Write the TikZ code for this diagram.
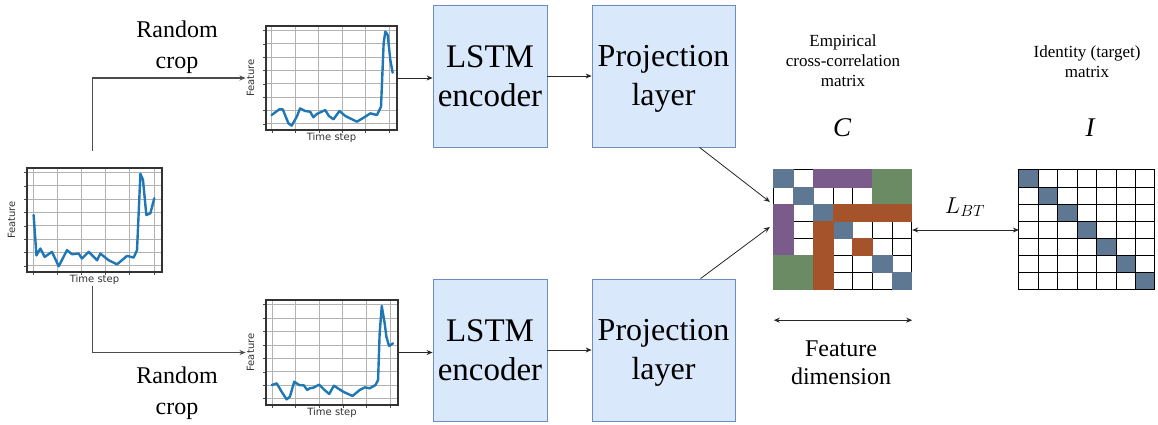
\RequirePackage{fix-cm}
\documentclass[tikz,border=0pt]{standalone}
\usepackage{fontspec}
\setmainfont{Liberation Serif}
\newfontfamily\plotfont{DejaVu Sans}
\usetikzlibrary{arrows.meta,positioning,calc}
\definecolor{boxfill}{RGB}{218,232,252}
\definecolor{boxline}{RGB}{108,142,191}
\definecolor{cdiag}{RGB}{94,120,147}
\definecolor{cpurp}{RGB}{123,90,140}
\definecolor{cgreen}{RGB}{107,139,100}
\definecolor{cbrown}{RGB}{165,83,42}
\definecolor{curve}{RGB}{31,119,180}
\def\tsgrid{%
  \foreach \gx in {0.045,0.224,...,0.95} {\draw[gridline] (\gx,0) -- (\gx,1); \draw[tickmark] (\gx,0) -- (\gx,-0.03);}
  \foreach \gy in {0.06,0.188,...,0.97} {\draw[gridline] (0,\gy) -- (1,\gy); \draw[tickmark] (0,\gy) -- (-0.025,\gy);}
}
\begin{document}
\begin{tikzpicture}[x=1pt, y=-1pt,
  enc/.style={draw=boxline, fill=boxfill, line width=0.8pt, minimum width=114pt, minimum height=142pt, inner sep=0pt, align=center, font=\fontsize{33}{39}\selectfont},
  proj/.style={enc, minimum width=143pt, font=\fontsize{32}{39}\selectfont},
  plotframe/.style={draw=black!80, line width=1.1pt, inner sep=0pt},
  axlab/.style={font=\plotfont\fontsize{10}{12}\selectfont, inner sep=1pt, text=black!80},
  gridline/.style={draw=black!30, line width=0.8pt},
  tickmark/.style={draw=black!70, line width=0.5pt},
  series/.style={draw=curve, line width=2.4pt, line join=round, line cap=round},
  arr/.style={-{Stealth[length=6pt,width=5pt]}, draw=black!85, line width=0.8pt},
  dbl/.style={arr, {Stealth[length=6pt,width=5pt]}-{Stealth[length=6pt,width=5pt]}},
  branch/.style={arr, draw=black!70, line width=1.2pt},
  cell/.style={draw=black, line width=0.9pt},
  blk/.style={fill=#1, draw=#1, line width=0.9pt},
  lbl/.style={align=center, font=\fontsize{24}{31}\selectfont},
  small/.style={align=center, font=\fontsize{17}{20}\selectfont},
]
	%%%%% START %%%%%
	\useasboundingbox (0,0) rectangle (1158,424);
	
	% input series
	\begin{scope}[shift={(27,272)}, x={(135pt,0pt)}, y={(0pt,104pt)}]
		\tsgrid
		\node[plotframe, minimum width=135pt, minimum height=104pt] (frameL) at (0.5,0.5) {};
		\draw[series] plot coordinates {(0.049,0.548) (0.07,0.16) (0.099,0.226) (0.131,0.145) (0.185,0.194) (0.235,0.055) (0.296,0.21) (0.333,0.171) (0.383,0.177) (0.407,0.129) (0.457,0.194) (0.519,0.113) (0.543,0.177) (0.605,0.113) (0.667,0.074) (0.741,0.155) (0.79,0.139) (0.815,0.21) (0.84,0.945) (0.859,0.887) (0.884,0.548) (0.914,0.565) (0.943,0.71)};
	\end{scope}
	\node[axlab, below=1pt of frameL] (timeL) {Time step};
	\node[axlab, rotate=90] (featL) at ([xshift=-15pt]frameL.west) {Feature};
	
	% upper crop
	\begin{scope}[shift={(266,130)}, x={(131pt,0pt)}, y={(0pt,104pt)}]
		\tsgrid
		\node[plotframe, minimum width=131pt, minimum height=104pt] (frameT) at (0.5,0.5) {};
		\draw[series] plot coordinates {(0.043,0.144) (0.102,0.199) (0.128,0.199) (0.171,0.064) (0.196,0.042) (0.235,0.128) (0.26,0.208) (0.298,0.183) (0.337,0.176) (0.362,0.122) (0.388,0.154) (0.452,0.192) (0.48,0.135) (0.515,0.103) (0.561,0.183) (0.605,0.135) (0.694,0.08) (0.758,0.128) (0.796,0.16) (0.847,0.144) (0.878,0.224) (0.898,0.833) (0.911,0.946) (0.929,0.913) (0.949,0.673) (0.967,0.551)};
	\end{scope}
	\node[axlab, below=1pt of frameT] (timeT) {Time step};
	\node[axlab, rotate=90] (featT) at ([xshift=-15pt]frameT.west) {Feature};
	
	% lower crop
	\begin{scope}[shift={(266,405)}, x={(132pt,0pt)}, y={(0pt,105pt)}]
		\tsgrid
		\node[plotframe, minimum width=132pt, minimum height=105pt] (frameB) at (0.5,0.5) {};
		\draw[series] plot coordinates {(0.043,0.19) (0.081,0.206) (0.118,0.127) (0.156,0.054) (0.181,0.079) (0.214,0.222) (0.252,0.19) (0.287,0.187) (0.312,0.143) (0.332,0.159) (0.358,0.165) (0.403,0.194) (0.438,0.149) (0.479,0.105) (0.514,0.184) (0.584,0.127) (0.655,0.086) (0.71,0.143) (0.748,0.168) (0.786,0.159) (0.829,0.19) (0.849,0.238) (0.861,0.683) (0.877,0.943) (0.899,0.778) (0.912,0.651) (0.932,0.562) (0.962,0.587)};
	\end{scope}
	\node[axlab, below=1pt of frameB] (timeB) {Time step};
	\node[axlab, rotate=90] (featB) at ([xshift=-15pt]frameB.west) {Feature};
	
	\node[lbl] (cropT) at (177,47) {Random\\crop};
	\node[lbl] (cropB) at (177,393) {Random\\crop};
	
	\node[enc] (encT) at (490,76) {LSTM\\encoder};
	\node[enc] (encB) at (490,350) {LSTM\\encoder};
	\node[proj] (projT) at (663.5,76) {\strut Projection\\layer};
	\node[proj] (projB) at (663.5,350) {\strut Projection\\layer};
	
	\node[inner sep=0pt, minimum width=138pt, minimum height=120pt] (matC) at (843,230) {};
	\node[inner sep=0pt, minimum width=136pt, minimum height=120pt] (matI) at (1087,230) {};
	
	% C
	\begin{scope}[shift={(matC.north west)}, x=19.714pt, y=-17.143pt]
		\foreach \r in {0,...,6} {\foreach \c in {0,...,6} {\draw[cell] (\c,\r) rectangle ++(1,1);}}
		\foreach \d in {0,1,2,3,5,6} {\draw[blk=cdiag] (\d,\d) rectangle ++(1,1);}
		\draw[blk=cpurp] (2,0) rectangle (5,1);
		\draw[blk=cpurp] (0,2) rectangle (1,5);
		\draw[blk=cgreen] (5,0) rectangle (7,2);
		\draw[blk=cgreen] (0,5) rectangle (2,7);
		\draw[blk=cbrown] (3,2) rectangle (7,3);
		\draw[blk=cbrown] (2,3) rectangle (3,7);
		\draw[blk=cbrown] (4,4) rectangle (5,5);
	\end{scope}
	
	% I
	\begin{scope}[shift={(matI.north west)}, x=19.429pt, y=-17.143pt]
		\foreach \d in {0,...,6} {\fill[cdiag] (\d,\d) rectangle ++(1,1);}
		\foreach \r in {0,...,6} {\foreach \c in {0,...,6} {\draw[cell] (\c,\r) rectangle ++(1,1);}}
	\end{scope}
	
	\node[small] (capC) at (843,61) {Empirical\\cross-correlation\\matrix};
	\node[small] (capI) at (1087,62) {Identity (target)\\matrix};
	\node[font=\fontsize{27}{30}\selectfont\itshape] (symC) at (842,128) {C};
	\node[font=\fontsize{27}{30}\selectfont\itshape] (symI) at (1090,128) {I};
	\node[font=\fontsize{23}{26}\selectfont] (lbt) at (965,207) {$L_{BT}$};
	\node[lbl, font=\fontsize{24}{28}\selectfont] (fdim) at (841,363) {Feature\\dimension};
	
	\draw[branch] ([xshift=-2pt,yshift=16pt]frameL.north) |- (featT);
	\draw[branch] ([xshift=-2pt]timeL.south) |- (featB);
	\draw[arr] (frameT.east) -- (frameT.east -| encT.west);
	\draw[arr] (frameB.east) -- (frameB.east -| encB.west);
	\draw[arr] (encT) -- (projT);
	\draw[arr] (encB) -- (projB);
	\draw[arr, shorten >=5pt] ([xshift=36pt]projT.south) -- ([yshift=25pt]matC.west);
	\draw[arr, shorten >=5pt] ([xshift=37pt]projB.north) -- ([yshift=6pt]matC.west);
	\draw[dbl] (matC) -- (matI);
	\draw[dbl] ([yshift=-30pt]matC.south west) -- ([yshift=-30pt]matC.south east);
	
	%%%%% END %%%%%
\end{tikzpicture}
\end{document}
